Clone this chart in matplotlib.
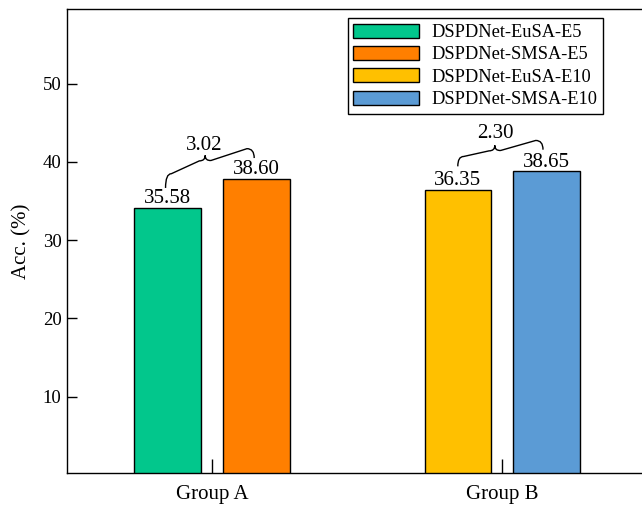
import numpy as np
import matplotlib.pyplot as plt
from matplotlib.path import Path
from matplotlib.patches import PathPatch, Patch

plt.rcParams['font.family'] = ['Liberation Serif', 'DejaVu Serif']

groups = ['Group A', 'Group B']
series = ['DSPDNet-EuSA-E5', 'DSPDNet-SMSA-E5', 'DSPDNet-EuSA-E10', 'DSPDNet-SMSA-E10']
colors = ['#02C78C', '#FF7F00', '#FFC000', '#5B9BD5']
# bar heights as drawn, and the value texts printed above them
left_vals = [34.12, 36.46]    # E5-EuSA (A), E10-EuSA (B)
right_vals = [37.87, 38.80]   # E5-SMSA (A), E10-SMSA (B)
left_txt = ['35.58', '36.35']
right_txt = ['38.60', '38.65']
gain_txt = ['3.02', '2.30']

fig = plt.figure(figsize=(6.42, 5.08), dpi=100)
ax = fig.add_axes([67 / 642, 35 / 508, 580.5 / 642, 464 / 508])

x = np.arange(len(groups))
w = 0.23
off = 0.153
for i in range(len(groups)):
    ax.bar(x[i] - off, left_vals[i], w, color=colors[2 * i], edgecolor='black', linewidth=1.0, zorder=2)
    ax.bar(x[i] + off, right_vals[i], w, color=colors[2 * i + 1], edgecolor='black', linewidth=1.0, zorder=2)
    ax.annotate(left_txt[i], (x[i] - off, left_vals[i]), xytext=(0, 3.3), textcoords='offset points',
                ha='center', va='baseline', fontsize=15)
    ax.annotate(right_txt[i], (x[i] + off, right_vals[i]), xytext=(0, 3.3), textcoords='offset points',
                ha='center', va='baseline', fontsize=15)


def brace(xc, x0, y0, yl, xm, ym, yr, x1, y1):
    x0, xm, x1 = xc + x0, xc + xm, xc + x1
    verts = [(x0, y0), (x0, yl), (x0 + 0.02, yl),
             (xm - 0.02, ym - 0.7),
             (xm, ym - 0.7), (xm, ym),
             (xm, ym - 0.7), (xm + 0.02, ym - 0.65),
             (x1 - 0.025, yr),
             (x1, yr), (x1, y1)]
    codes = [Path.MOVETO, Path.CURVE3, Path.CURVE3, Path.LINETO,
             Path.CURVE3, Path.CURVE3, Path.CURVE3, Path.CURVE3,
             Path.LINETO, Path.CURVE3, Path.CURVE3]
    ax.add_patch(PathPatch(Path(verts, codes), fill=False, lw=1.0, color='black', zorder=3))


brace(x[0], -0.1605, 36.68, 38.5, -0.024, 40.84, 41.7, 0.145, 40.5)
brace(x[1], -0.1536, 39.44, 40.7, -0.026, 42.12, 42.75, 0.14, 41.57)
ax.text(x[0] - 0.026, 41.57, gain_txt[0], ha='center', va='baseline', fontsize=15)
ax.text(x[1] - 0.024, 43.07, gain_txt[1], ha='center', va='baseline', fontsize=15)

ax.set_xlim(-0.5, 1.5)
ax.set_ylim(0.25, 59.55)
ax.set_xticks(x)
ax.set_xticklabels(groups, fontsize=15)
ax.set_yticks([10, 20, 30, 40, 50])
ax.tick_params(axis='y', direction='in', length=7, width=1, labelsize=13.5, pad=4)
ax.tick_params(axis='x', direction='in', length=10, width=1, pad=9)
ax.set_ylabel('Acc. (%)', fontsize=15, labelpad=8)
for s in ax.spines.values():
    s.set_linewidth(1.0)

handles = [Patch(facecolor=c, edgecolor='black', linewidth=1.0) for c in colors]
leg = ax.legend(handles, series, loc='upper right', bbox_to_anchor=(0.924, 0.98),
                fontsize=13.2, handlelength=3.6, handleheight=0.8, handletextpad=0.7,
                labelspacing=0.27, borderpad=0.3, borderaxespad=0, fancybox=False, framealpha=1)
leg.get_frame().set_edgecolor('black')
leg.get_frame().set_linewidth(1.0)

plt.savefig('out.png', dpi=100)
